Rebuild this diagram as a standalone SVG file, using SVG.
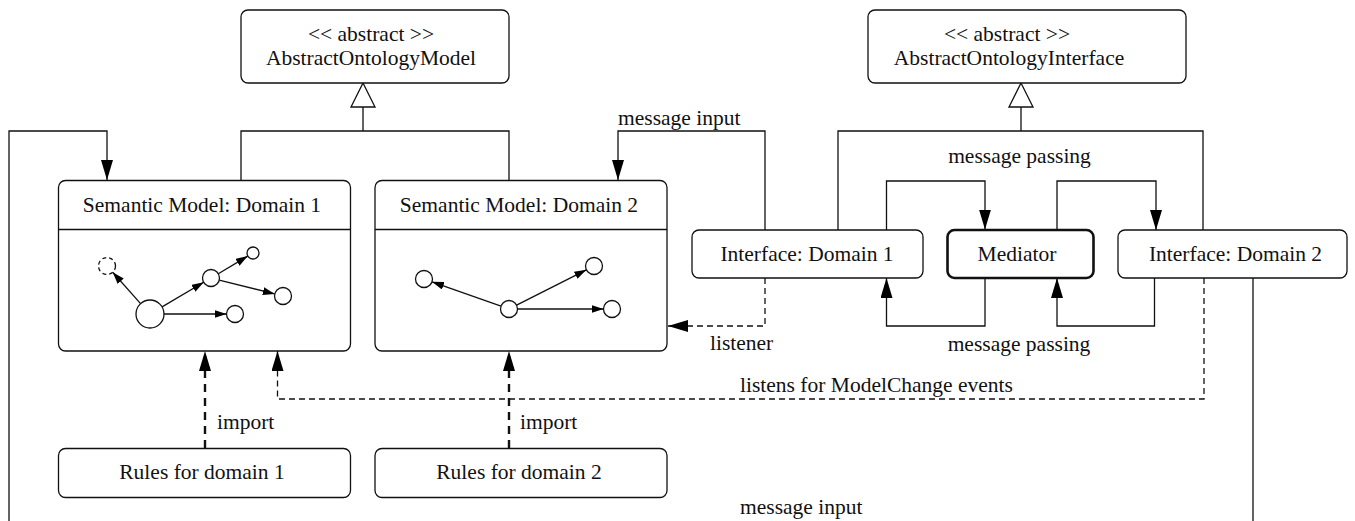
<svg xmlns="http://www.w3.org/2000/svg" width="1355" height="521" viewBox="0 0 1355 521">
  <style>
    text { font-family: "Liberation Serif", "Times New Roman", serif; font-size: 21.5px; fill: #111; }
    .c { text-anchor: middle; }
    .box { fill: #fff; stroke: #111; stroke-width: 1.3; }
    .bold { stroke-width: 2.6; }
    .ln { fill: none; stroke: #111; stroke-width: 1.3; }
    .dash { fill: none; stroke: #111; stroke-width: 1.3; stroke-dasharray: 6 4; }
    .imp { fill: none; stroke: #111; stroke-width: 2.4; stroke-dasharray: 8 6; }
    .node { fill: #fff; stroke: #111; stroke-width: 1.3; }
    .gen { fill: #fff; stroke: #111; stroke-width: 1.3; }
  </style>
  <defs>
    <marker id="arr" viewBox="0 0 20 12" refX="20" refY="6" markerWidth="20" markerHeight="12" markerUnits="userSpaceOnUse" orient="auto">
      <path d="M0,0 L20,6 L0,12 z" fill="#000"/>
    </marker>
    <marker id="arrS" viewBox="0 0 12 8" refX="12" refY="4" markerWidth="12" markerHeight="8" markerUnits="userSpaceOnUse" orient="auto">
      <path d="M0,0 L12,4 L0,8 z" fill="#000"/>
    </marker>
  </defs>

  <!-- connectors -->
  <g id="connectors">
    <!-- generalisation: AbstractOntologyModel -->
    <path class="ln" d="M241,180 V131 H509 V180 M363,131 V107"/>
    <path class="gen" d="M363,83 L375,107 L351,107 z"/>
    <!-- generalisation: AbstractOntologyInterface -->
    <path class="ln" d="M838,230 V131 H1203 V230 M1021,131 V107"/>
    <path class="gen" d="M1021,83 L1033,107 L1009,107 z"/>

    <!-- message input: Interface Domain 1 to Semantic Model Domain 2 -->
    <path class="ln" d="M765,230 V131 H618 V180" marker-end="url(#arr)"/>
    <text x="618" y="125">message input</text>

    <!-- message input: Interface Domain 2 around to Semantic Model Domain 1 -->
    <path class="ln" d="M1253,278 V545 H9 V131 H107 V180" marker-end="url(#arr)"/>
    <text x="740" y="514">message input</text>

    <!-- message passing between interfaces and mediator -->
    <path class="ln" d="M886.5,230 V181 H985 V229.5" marker-end="url(#arr)"/>
    <path class="ln" d="M1057,229.5 V181 H1156 V230" marker-end="url(#arr)"/>
    <path class="ln" d="M985,278 V326 H886.5 V278" marker-end="url(#arr)"/>
    <path class="ln" d="M1154.5,278 V326 H1057 V278" marker-end="url(#arr)"/>
    <text class="c" x="1019.5" y="163">message passing</text>
    <text class="c" x="1019" y="351">message passing</text>

    <!-- listener -->
    <path class="dash" d="M765,278 V326 H668" marker-end="url(#arr)"/>
    <text x="710" y="350">listener</text>

    <!-- model change events -->
    <path class="dash" d="M1204,278 V399 H277.5 V351" marker-end="url(#arr)"/>
    <text x="740" y="392">listens for ModelChange events</text>

    <!-- rule imports -->
    <path class="imp" d="M205,448 V351" marker-end="url(#arr)"/>
    <path class="imp" d="M509,448 V351" marker-end="url(#arr)"/>
    <text x="217" y="429">import</text>
    <text x="520" y="429">import</text>
  </g>

  <!-- abstract classes -->
  <g id="abstract-model">
    <rect class="box" x="241" y="10" width="268" height="73" rx="7"/>
    <text class="c" x="371" y="41">&lt;&lt; abstract &gt;&gt;</text>
    <text class="c" x="371" y="65">AbstractOntologyModel</text>
  </g>
  <g id="abstract-interface">
    <rect class="box" x="868" y="10" width="318" height="73" rx="7"/>
    <text class="c" x="1007" y="41">&lt;&lt; abstract &gt;&gt;</text>
    <text class="c" x="1009" y="65">AbstractOntologyInterface</text>
  </g>

  <!-- semantic model: domain 1 -->
  <g id="semantic-model-1">
    <rect class="box" x="58.5" y="180.5" width="292" height="170.5" rx="7"/>
    <line class="ln" x1="58.5" y1="229.5" x2="350.5" y2="229.5"/>
    <text class="c" x="202" y="212">Semantic Model: Domain 1</text>
    <g class="ln">
      <line x1="140.6" y1="303.6" x2="112.7" y2="272.3" marker-end="url(#arrS)"/>
      <line x1="162.1" y1="306.9" x2="203.7" y2="282.3" marker-end="url(#arrS)"/>
      <line x1="164" y1="314" x2="226.5" y2="314" marker-end="url(#arrS)"/>
      <line x1="218.3" y1="273.7" x2="247.8" y2="256.1" marker-end="url(#arrS)"/>
      <line x1="219.2" y1="280.1" x2="274.8" y2="293.9" marker-end="url(#arrS)"/>
    </g>
    <circle class="node" cx="150" cy="314" r="14"/>
    <circle class="node" cx="107" cy="266" r="8.5" stroke-dasharray="4 3"/>
    <circle class="node" cx="211" cy="278" r="8.5"/>
    <circle class="node" cx="253" cy="253" r="6"/>
    <circle class="node" cx="283" cy="296" r="8.5"/>
    <circle class="node" cx="235" cy="314" r="8.5"/>
  </g>

  <!-- semantic model: domain 2 -->
  <g id="semantic-model-2">
    <rect class="box" x="375" y="180.5" width="292" height="170.5" rx="7"/>
    <line class="ln" x1="375" y1="229.5" x2="667" y2="229.5"/>
    <text class="c" x="519" y="212">Semantic Model: Domain 2</text>
    <g class="ln">
      <line x1="501" y1="306.2" x2="432" y2="281.8" marker-end="url(#arrS)"/>
      <line x1="516.6" y1="305.2" x2="586.4" y2="269.8" marker-end="url(#arrS)"/>
      <line x1="517.5" y1="309" x2="603.5" y2="309" marker-end="url(#arrS)"/>
    </g>
    <circle class="node" cx="509" cy="309" r="8.5"/>
    <circle class="node" cx="424" cy="279" r="8.5"/>
    <circle class="node" cx="594" cy="266" r="8.5"/>
    <circle class="node" cx="612" cy="309" r="8.5"/>
  </g>

  <!-- interfaces and mediator -->
  <g id="interface-1">
    <rect class="box" x="692" y="230" width="231" height="48" rx="7"/>
    <text class="c" x="807" y="261">Interface: Domain 1</text>
  </g>
  <g id="mediator">
    <rect class="box bold" x="947.5" y="230" width="146" height="48" rx="7"/>
    <text class="c" x="1017" y="261">Mediator</text>
  </g>
  <g id="interface-2">
    <rect class="box" x="1118" y="230" width="229" height="48" rx="7"/>
    <text class="c" x="1235.5" y="261">Interface: Domain 2</text>
  </g>

  <!-- rule sets -->
  <g id="rules-1">
    <rect class="box" x="58.5" y="448.5" width="292" height="49" rx="7"/>
    <text class="c" x="202" y="479">Rules for domain 1</text>
  </g>
  <g id="rules-2">
    <rect class="box" x="375" y="448.5" width="292" height="49" rx="7"/>
    <text class="c" x="519" y="479">Rules for domain 2</text>
  </g>
</svg>
